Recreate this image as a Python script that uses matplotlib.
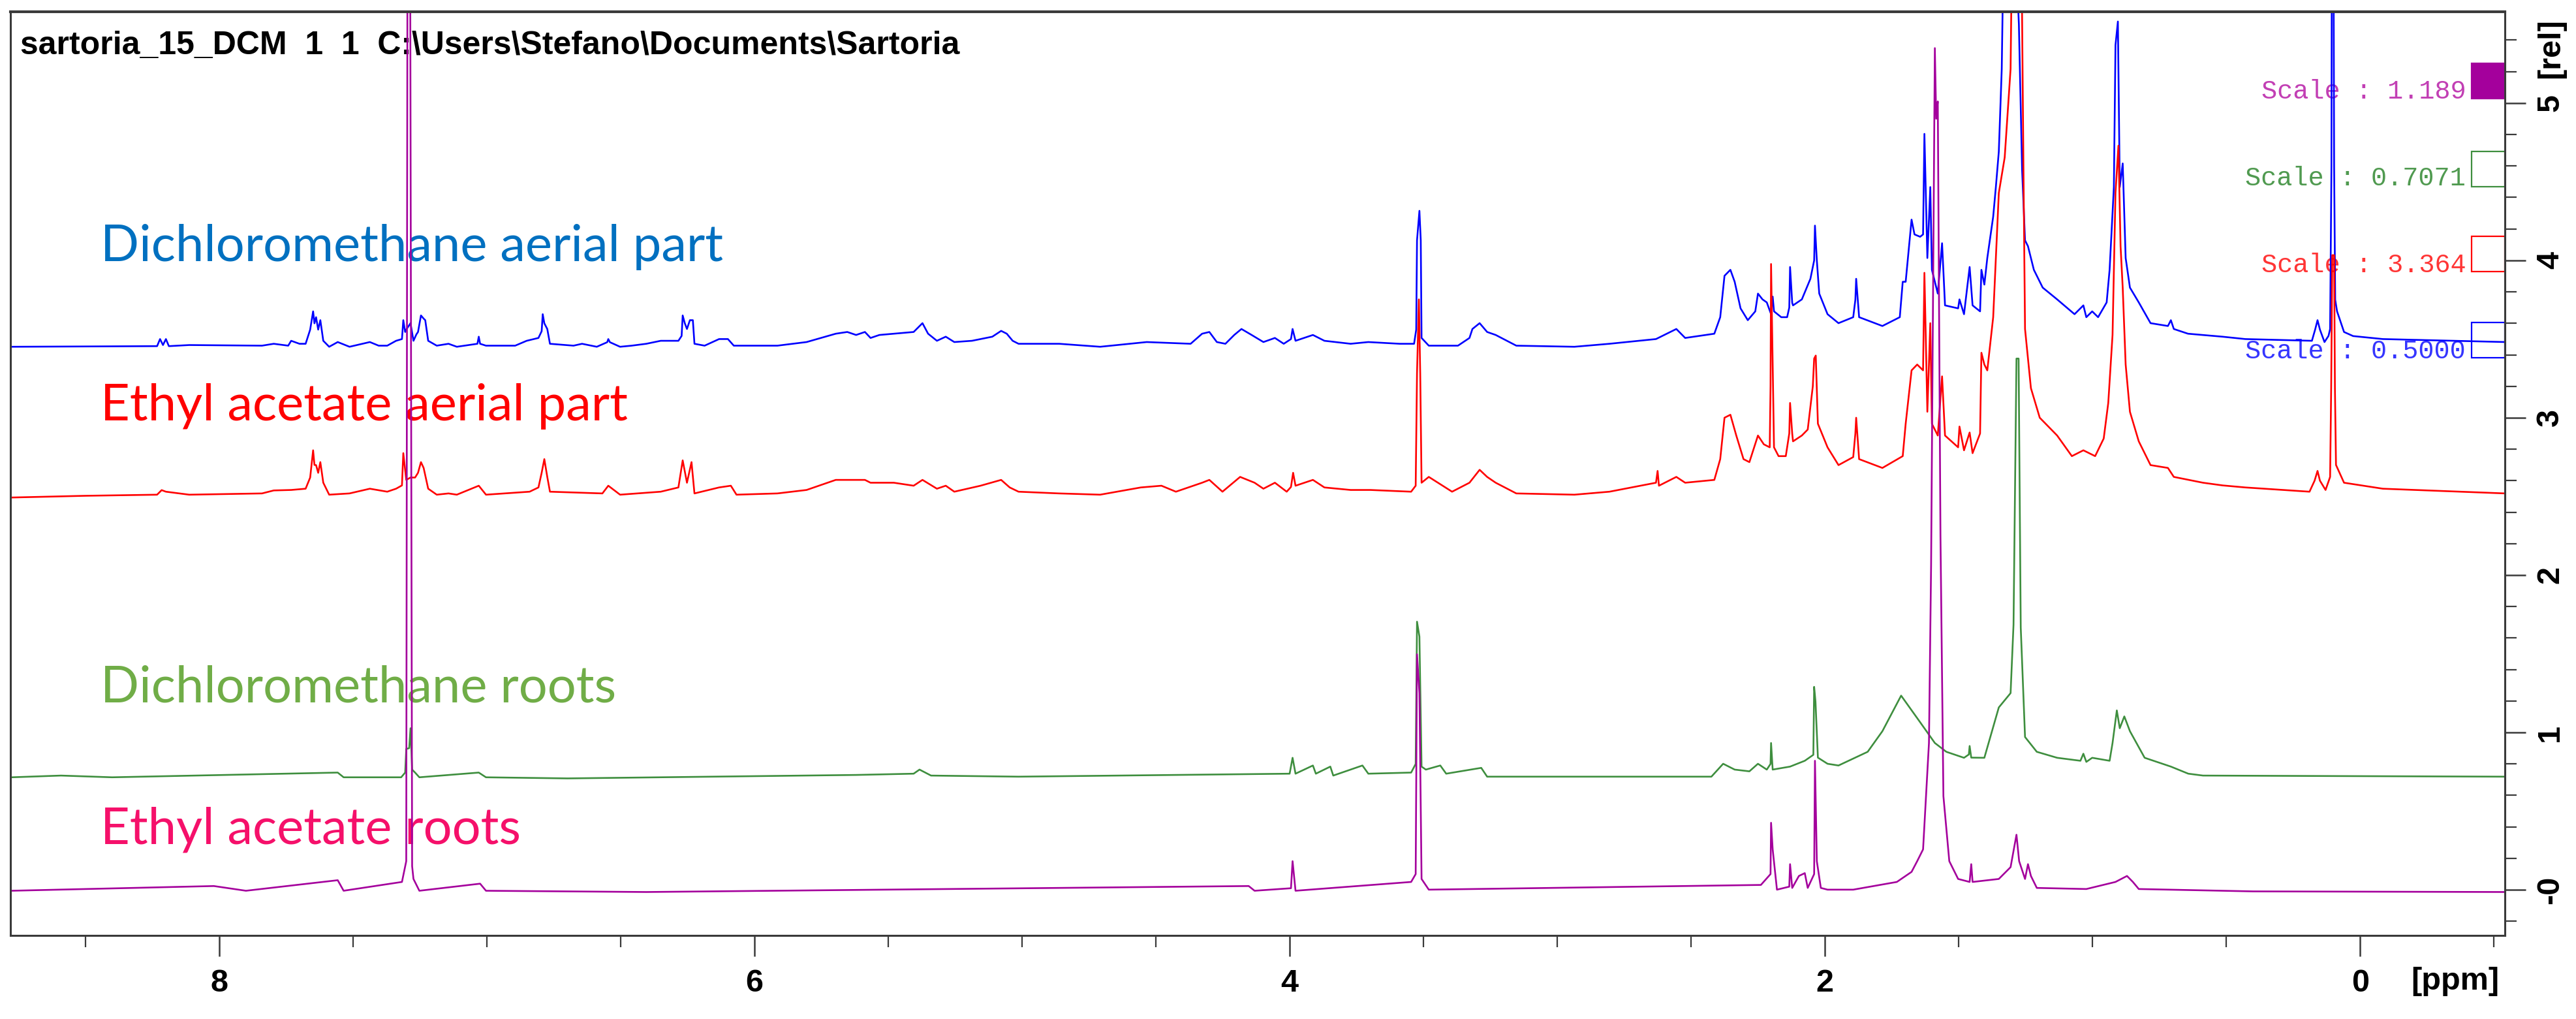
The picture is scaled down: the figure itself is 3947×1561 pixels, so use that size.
import matplotlib
matplotlib.use("Agg")
import matplotlib.pyplot as plt
from matplotlib.patches import Rectangle
import numpy as np

# chemical shift (ppm) / relative intensity
blue_ppm = [8.776, 8.232, 8.221, 8.210, 8.199, 8.188, 8.112, 7.840, 7.796, 7.742, 7.731, 7.700, 7.677,
            7.660, 7.649, 7.644, 7.638, 7.630, 7.622, 7.611, 7.589, 7.557, 7.513, 7.437, 7.404, 7.372,
            7.339, 7.317, 7.312, 7.305, 7.301, 7.285, 7.274, 7.263, 7.257, 7.246, 7.236, 7.230, 7.219,
            7.187, 7.143, 7.112, 7.035, 7.030, 7.025, 7.003, 6.894, 6.851, 6.807, 6.795, 6.791, 6.785,
            6.774, 6.764, 6.676, 6.644, 6.589, 6.550, 6.546, 6.540, 6.502, 6.459, 6.404, 6.350, 6.284,
            6.272, 6.268, 6.260, 6.252, 6.241, 6.230, 6.224, 6.186, 6.132, 6.099, 6.077, 5.914, 5.805,
            5.696, 5.653, 5.620, 5.587, 5.566, 5.533, 5.479, 5.405, 5.372, 5.351, 5.318, 5.285, 5.253,
            5.187, 5.155, 5.111, 5.078, 5.057, 5.035, 5.013, 4.861, 4.708, 4.534, 4.370, 4.327, 4.300,
            4.272, 4.240, 4.207, 4.180, 4.142, 4.098, 4.055, 4.022, 3.995, 3.989, 3.978, 3.913, 3.870,
            3.772, 3.706, 3.589, 3.535, 3.527, 3.524, 3.515, 3.510, 3.507, 3.480, 3.371, 3.328, 3.317,
            3.290, 3.262, 3.230, 3.153, 2.936, 2.805, 2.631, 2.555, 2.522, 2.413, 2.391, 2.375, 2.353,
            2.337, 2.315, 2.288, 2.260, 2.250, 2.233, 2.217, 2.201, 2.195, 2.190, 2.163, 2.141, 2.133,
            2.130, 2.122, 2.119, 2.086, 2.054, 2.040, 2.037, 2.030, 2.021, 1.990, 1.949, 1.894, 1.886,
            1.883, 1.872, 1.785, 1.720, 1.709, 1.698, 1.676, 1.665, 1.644, 1.633, 1.628, 1.617, 1.606,
            1.600, 1.578, 1.562, 1.551, 1.502, 1.497, 1.480, 1.459, 1.448, 1.420, 1.415, 1.404, 1.393,
            1.371, 1.361, 1.350, 1.339, 1.328, 1.300, 1.275, 1.263, 1.252, 1.241, 1.219, 1.186, 1.132,
            1.067, 1.034, 1.023, 1.001, 0.979, 0.947, 0.936, 0.920, 0.914, 0.905, 0.898, 0.887, 0.876,
            0.860, 0.827, 0.783, 0.718, 0.707, 0.696, 0.643, 0.514, 0.429, 0.180, 0.168, 0.159, 0.150,
            0.133, 0.118, 0.112, 0.107, 0.105, 0.100, 0.097, 0.093, 0.086, 0.060, 0.026, -0.085, -0.543]
blue_int = [3.451, 3.455, 3.500, 3.462, 3.500, 3.455, 3.462, 3.458, 3.470, 3.458, 3.489, 3.470, 3.470,
            3.560, 3.676, 3.600, 3.639, 3.560, 3.620, 3.489, 3.451, 3.481, 3.451, 3.481, 3.458, 3.458,
            3.489, 3.500, 3.620, 3.545, 3.560, 3.601, 3.489, 3.530, 3.545, 3.650, 3.630, 3.620, 3.489,
            3.458, 3.470, 3.451, 3.470, 3.515, 3.470, 3.458, 3.458, 3.489, 3.507, 3.550, 3.658, 3.600,
            3.564, 3.470, 3.458, 3.470, 3.451, 3.480, 3.500, 3.480, 3.451, 3.458, 3.470, 3.489, 3.489,
            3.520, 3.650, 3.600, 3.564, 3.620, 3.620, 3.470, 3.458, 3.500, 3.500, 3.458, 3.458, 3.481,
            3.534, 3.545, 3.526, 3.545, 3.507, 3.526, 3.534, 3.545, 3.601, 3.534, 3.489, 3.515, 3.481,
            3.489, 3.500, 3.515, 3.552, 3.534, 3.489, 3.470, 3.470, 3.451, 3.481, 3.470, 3.534, 3.545,
            3.481, 3.470, 3.526, 3.564, 3.526, 3.481, 3.507, 3.470, 3.500, 3.564, 3.489, 3.526, 3.489,
            3.470, 3.481, 3.470, 3.470, 3.560, 4.127, 4.315, 4.127, 3.507, 3.458, 3.458, 3.507, 3.564,
            3.601, 3.545, 3.526, 3.458, 3.451, 3.470, 3.500, 3.564, 3.507, 3.534, 3.639, 3.902, 3.940,
            3.864, 3.695, 3.620, 3.676, 3.789, 3.752, 3.733, 3.658, 3.770, 3.676, 3.639, 3.639, 3.700,
            3.958, 3.730, 3.714, 3.752, 3.883, 4.000, 4.221, 4.000, 3.789, 3.658, 3.601, 3.639, 3.750,
            3.883, 3.639, 3.583, 3.639, 3.864, 3.864, 4.259, 4.165, 4.150, 4.165, 4.804, 4.015, 4.466,
            3.940, 3.789, 4.109, 3.714, 3.695, 3.752, 3.658, 3.958, 3.714, 3.676, 3.940, 3.846, 4.015,
            4.278, 4.466, 4.691, 5.217, 6.500, 6.500, 5.500, 4.578, 4.127, 4.090, 3.940, 3.827, 3.752,
            3.658, 3.714, 3.639, 3.676, 3.639, 3.733, 3.940, 4.466, 5.368, 5.518, 4.466, 4.616, 4.015,
            3.827, 3.733, 3.601, 3.583, 3.620, 3.564, 3.534, 3.515, 3.500, 3.489, 3.560, 3.620, 3.560,
            3.481, 3.520, 3.564, 4.600, 6.500, 6.500, 4.600, 3.750, 3.676, 3.545, 3.519, 3.500, 3.481]

red_ppm = [8.776, 8.500, 8.232, 8.215, 8.199, 8.112, 7.840, 7.796, 7.731, 7.677, 7.660, 7.649, 7.644,
           7.638, 7.630, 7.622, 7.611, 7.589, 7.513, 7.437, 7.372, 7.339, 7.317, 7.312, 7.301, 7.285,
           7.268, 7.257, 7.246, 7.236, 7.219, 7.187, 7.143, 7.112, 7.030, 7.003, 6.840, 6.807, 6.795,
           6.785, 6.774, 6.764, 6.568, 6.546, 6.502, 6.350, 6.284, 6.268, 6.252, 6.235, 6.224, 6.132,
           6.088, 6.067, 5.914, 5.805, 5.696, 5.653, 5.587, 5.566, 5.479, 5.405, 5.372, 5.318, 5.285,
           5.253, 5.155, 5.078, 5.046, 5.013, 4.861, 4.708, 4.556, 4.479, 4.425, 4.327, 4.300, 4.251,
           4.185, 4.131, 4.098, 4.055, 4.011, 3.995, 3.987, 3.978, 3.913, 3.870, 3.772, 3.698, 3.546,
           3.529, 3.524, 3.517, 3.512, 3.507, 3.480, 3.393, 3.328, 3.290, 3.262, 3.230, 3.153, 2.936,
           2.805, 2.631, 2.625, 2.620, 2.555, 2.522, 2.413, 2.391, 2.375, 2.353, 2.331, 2.304, 2.282,
           2.250, 2.228, 2.206, 2.203, 2.201, 2.197, 2.190, 2.173, 2.146, 2.133, 2.130, 2.122, 2.119,
           2.086, 2.064, 2.045, 2.040, 2.034, 2.026, 1.990, 1.949, 1.894, 1.886, 1.883, 1.872, 1.785,
           1.709, 1.698, 1.676, 1.655, 1.633, 1.628, 1.617, 1.606, 1.600, 1.578, 1.562, 1.551, 1.502,
           1.497, 1.480, 1.459, 1.448, 1.420, 1.415, 1.404, 1.393, 1.371, 1.350, 1.328, 1.306, 1.297,
           1.268, 1.258, 1.252, 1.230, 1.197, 1.132, 1.077, 1.034, 0.990, 0.958, 0.941, 0.925, 0.914,
           0.903, 0.895, 0.887, 0.876, 0.860, 0.827, 0.783, 0.718, 0.696, 0.587, 0.514, 0.429, 0.189,
           0.170, 0.159, 0.150, 0.129, 0.112, 0.108, 0.104, 0.097, 0.094, 0.090, 0.060, -0.085, -0.543]
red_int = [2.493, 2.504, 2.511, 2.540, 2.530, 2.511, 2.519, 2.538, 2.541, 2.549, 2.620, 2.793, 2.700,
           2.699, 2.650, 2.718, 2.587, 2.511, 2.519, 2.549, 2.530, 2.549, 2.570, 2.775, 2.605, 2.620,
           2.620, 2.650, 2.718, 2.681, 2.549, 2.511, 2.519, 2.511, 2.568, 2.511, 2.530, 2.557, 2.650,
           2.737, 2.624, 2.530, 2.519, 2.568, 2.511, 2.530, 2.557, 2.729, 2.587, 2.718, 2.519, 2.557,
           2.568, 2.511, 2.519, 2.541, 2.605, 2.605, 2.605, 2.587, 2.587, 2.568, 2.605, 2.549, 2.568,
           2.530, 2.568, 2.605, 2.557, 2.530, 2.519, 2.511, 2.557, 2.568, 2.530, 2.587, 2.605, 2.530,
           2.624, 2.587, 2.549, 2.587, 2.530, 2.560, 2.650, 2.568, 2.605, 2.557, 2.541, 2.541, 2.530,
           2.568, 3.282, 3.752, 3.282, 2.587, 2.624, 2.530, 2.587, 2.669, 2.624, 2.587, 2.519, 2.511,
           2.530, 2.587, 2.662, 2.568, 2.624, 2.587, 2.605, 2.737, 3.000, 3.019, 2.887, 2.737, 2.718,
           2.887, 2.831, 2.812, 3.200, 3.977, 3.545, 2.812, 2.756, 2.756, 2.900, 3.094, 2.900, 2.850,
           2.887, 2.925, 3.200, 3.376, 3.395, 2.962, 2.812, 2.699, 2.750, 2.900, 3.000, 2.737, 2.681,
           2.756, 2.962, 3.301, 3.338, 3.301, 3.921, 3.038, 3.601, 2.962, 2.887, 3.263, 2.887, 2.812,
           2.944, 2.793, 2.906, 2.775, 2.900, 3.413, 3.338, 3.301, 3.639, 4.428, 4.654, 5.217, 6.500,
           6.500, 4.600, 3.564, 3.188, 3.000, 2.887, 2.756, 2.793, 2.756, 2.868, 3.094, 3.526, 4.428,
           4.729, 4.090, 3.827, 3.338, 3.038, 2.850, 2.699, 2.681, 2.624, 2.587, 2.570, 2.557, 2.530,
           2.600, 2.662, 2.600, 2.541, 2.624, 3.190, 4.033, 4.033, 3.190, 2.700, 2.587, 2.549, 2.519]

green_ppm = [8.776, 8.591, 8.400, 7.557, 7.535, 7.320, 7.305, 7.301, 7.290, 7.285, 7.279, 7.268, 7.252,
             7.030, 7.003, 6.698, 5.620, 5.405, 5.383, 5.340, 5.013, 4.000, 3.989, 3.978, 3.913, 3.902,
             3.848, 3.837, 3.728, 3.706, 3.546, 3.529, 3.524, 3.515, 3.507, 3.491, 3.437, 3.415, 3.284,
             3.262, 2.424, 2.380, 2.337, 2.282, 2.250, 2.217, 2.203, 2.201, 2.195, 2.130, 2.075, 2.043,
             2.040, 2.035, 2.026, 1.990, 1.949, 1.840, 1.785, 1.715, 1.644, 1.589, 1.546, 1.480, 1.462,
             1.459, 1.453, 1.404, 1.350, 1.306, 1.295, 1.284, 1.276, 1.268, 1.252, 1.208, 1.132, 1.045,
             1.034, 1.023, 1.001, 0.936, 0.925, 0.909, 0.898, 0.881, 0.860, 0.805, 0.707, 0.642, 0.587,
             -0.543]
green_int = [0.715, 0.726, 0.715, 0.745, 0.715, 0.715, 0.745, 0.895, 0.900, 1.027, 0.764, 0.745, 0.715,
             0.745, 0.715, 0.708, 0.730, 0.738, 0.764, 0.726, 0.719, 0.738, 0.839, 0.738, 0.790, 0.738,
             0.783, 0.726, 0.790, 0.738, 0.745, 0.800, 1.704, 1.609, 0.783, 0.764, 0.790, 0.738, 0.775,
             0.719, 0.719, 0.801, 0.764, 0.753, 0.801, 0.764, 0.800, 0.933, 0.764, 0.783, 0.820, 0.858,
             1.290, 1.196, 0.840, 0.801, 0.790, 0.877, 1.008, 1.234, 1.065, 0.933, 0.877, 0.839, 0.860,
             0.914, 0.840, 0.839, 1.159, 1.250, 1.685, 3.376, 3.376, 1.666, 0.971, 0.877, 0.839, 0.820,
             0.865, 0.813, 0.839, 0.820, 0.933, 1.140, 1.027, 1.102, 1.008, 0.839, 0.783, 0.738, 0.726,
             0.719]

purple_ppm = [8.776, 8.020, 7.900, 7.557, 7.535, 7.317, 7.301, 7.296, 7.287, 7.279, 7.274, 7.252, 7.025,
              7.003, 6.404, 4.153, 4.131, 3.995, 3.989, 3.978, 3.546, 3.529, 3.524, 3.515, 3.507, 3.480,
              2.239, 2.203, 2.201, 2.195, 2.179, 2.133, 2.130, 2.122, 2.097, 2.075, 2.064, 2.040, 2.037,
              2.030, 2.015, 1.990, 1.894, 1.731, 1.676, 1.655, 1.633, 1.611, 1.603, 1.589, 1.584, 1.578,
              1.568, 1.557, 1.535, 1.502, 1.459, 1.453, 1.448, 1.350, 1.306, 1.284, 1.274, 1.252, 1.241,
              1.230, 1.208, 1.023, 0.914, 0.871, 0.849, 0.827, 0.400, -0.543]
purple_int = [-0.006, 0.024, -0.006, 0.061, -0.006, 0.050, 0.182, 6.500, 6.500, 0.150, 0.069, -0.006, 0.039,
              -0.006, -0.014, 0.024, -0.006, 0.010, 0.182, -0.006, 0.050, 0.100, 1.497, 1.250, 0.069, 0.001,
              0.031, 0.100, 0.426, 0.257, 0.001, 0.020, 0.163, 0.012, 0.088, 0.106, 0.012, 0.100, 0.820,
              0.182, 0.012, 0.001, 0.001, 0.050, 0.114, 0.182, 0.257, 0.933, 2.061, 5.349, 4.900, 5.010,
              2.248, 0.595, 0.182, 0.069, 0.050, 0.163, 0.050, 0.069, 0.144, 0.350, 0.182, 0.069, 0.163,
              0.088, 0.012, 0.005, 0.050, 0.088, 0.050, 0.005, -0.010, -0.014]

trace_colors = ["#0000FF", "#FF0000", "#3E8E3E", "#A4009C"]
sample_names = ["Dichloromethane aerial part", "Ethyl acetate aerial part",
                "Dichloromethane roots", "Ethyl acetate roots"]
name_colors = ["#0070C0", "#FF0000", "#70AD47", "#F5106A"]
scale_texts = ["Scale : 0.5000", "Scale : 3.364", "Scale : 0.7071", "Scale : 1.189"]
scale_colors = ["#3535FF", "#FF3535", "#509A50", "#C23FB4"]
title = "sartoria_15_DCM  1  1  C:\\Users\\Stefano\\Documents\\Sartoria"

W, H = 3947, 1561


def fx(px):
    return px / W


def fy(py):
    return 1 - py / H


def main():
    fig = plt.figure(figsize=(W / 100, H / 100), dpi=100)
    ax = fig.add_axes([fx(16), fy(1433), fx(3838 - 16), (1433 - 18) / H])

    traces = [(blue_ppm, blue_int), (red_ppm, red_int),
              (green_ppm, green_int), (purple_ppm, purple_int)]
    for (ppm, inten), color in zip(traces, trace_colors):
        ax.plot(ppm, inten, color=color, lw=1.9, zorder=2)

    ax.set_xlim(8.78, -0.541)
    ax.set_ylim(-0.29, 5.58)

    # scale labels + indicator boxes on the right
    label_y = [3.423, 3.971, 4.523, 5.075]
    box_y = [3.38, 3.93, 4.47, 5.03]
    for text, tcol, ly, by, color in zip(scale_texts, scale_colors, label_y, box_y, trace_colors):
        ax.text(-0.395, ly, text, ha="right", va="center", family="Liberation Mono",
                fontsize=29, color=tcol, zorder=1)
        filled = color == trace_colors[3]
        ax.add_patch(Rectangle((-0.541, by), 0.124, 0.224, facecolor=color if filled else "none",
                               edgecolor=color, lw=1.6, zorder=1))

    # sample names
    name_base = [400, 644, 1075, 1292]
    for name, col, yb in zip(sample_names, name_colors, name_base):
        ax.text(fx(154), fy(yb), name, transform=fig.transFigure, family="Lato",
                fontsize=56, color=col, va="baseline", zorder=1)

    ax.text(fx(31), fy(83), title, transform=fig.transFigure, family="Liberation Sans",
            fontweight="bold", fontsize=36, va="baseline", zorder=1)

    # axes styling
    for side in ["left", "right", "bottom", "top"]:
        ax.spines[side].set_color("#3a3a3a")
        ax.spines[side].set_linewidth(2.2)
    ax.spines["top"].set_linewidth(3.0)

    ax.yaxis.tick_right()
    ax.set_xticks([8, 6, 4, 2, 0], ["8", "6", "4", "2", "0"], family="Liberation Sans",
                  fontweight="bold", fontsize=35)
    ax.set_xticks(np.arange(-0.5, 8.6, 0.5), minor=True)
    ax.set_yticks([0, 1, 2, 3, 4, 5], ["-0", "1", "2", "3", "4", "5"], family="Liberation Sans",
                  fontweight="bold", fontsize=35, rotation=90, va="center")
    ax.set_yticks(np.arange(-0.2, 5.5, 0.2), minor=True)
    ax.tick_params(axis="both", which="major", direction="out", length=23, width=1.8,
                   color="#3a3a3a")
    ax.tick_params(axis="both", which="minor", direction="out", length=13, width=1.6,
                   color="#3a3a3a")
    ax.tick_params(axis="x", which="major", pad=14)
    ax.tick_params(axis="y", which="major", pad=11)

    fig.text(fx(3762), fy(1504), "[ppm]", family="Liberation Sans", fontweight="bold",
             fontsize=35, ha="center", va="center")
    fig.text(fx(3909), fy(74), "[rel]", family="Liberation Sans", fontweight="bold",
             fontsize=35, ha="center", va="center", rotation=90)

    fig.savefig("out.png", dpi=100, facecolor="white")
    plt.close(fig)


if __name__ == "__main__":
    main()
